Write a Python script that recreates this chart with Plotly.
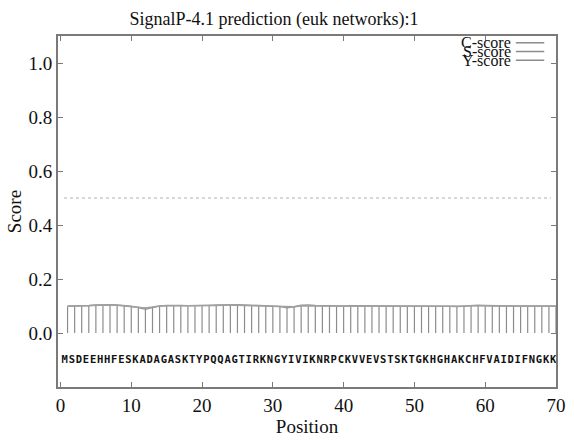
import plotly.graph_objects as go

# ---- data ----
sequence = list("MSDEEHHFESKADAGASKTYPQQAGTIRKNGYIVIKNRPCKVVEVSTSKTGKHGHAKCHFVAIDIFNGKK")
positions = list(range(1, len(sequence) + 1))

c_score = [0.098, 0.098, 0.099, 0.100, 0.102, 0.103, 0.103, 0.102, 0.101, 0.100,
           0.098, 0.096, 0.098, 0.100, 0.101, 0.100, 0.100, 0.099, 0.099, 0.100,
           0.100, 0.101, 0.102, 0.103, 0.102, 0.101, 0.100, 0.100, 0.099, 0.099,
           0.100, 0.098, 0.097, 0.098, 0.099, 0.100, 0.100, 0.100, 0.099, 0.099,
           0.099, 0.099, 0.098, 0.098, 0.099, 0.099, 0.100, 0.099, 0.099, 0.098,
           0.098, 0.099, 0.099, 0.099, 0.098, 0.098, 0.099, 0.100, 0.101, 0.101,
           0.100, 0.100, 0.099, 0.099, 0.099, 0.099, 0.099, 0.099, 0.099, 0.099]

s_score = [0.100, 0.100, 0.101, 0.102, 0.104, 0.105, 0.105, 0.104, 0.102, 0.099,
           0.094, 0.088, 0.094, 0.100, 0.102, 0.103, 0.102, 0.101, 0.101, 0.102,
           0.103, 0.104, 0.105, 0.106, 0.105, 0.104, 0.103, 0.102, 0.101, 0.100,
           0.098, 0.094, 0.097, 0.103, 0.104, 0.102, 0.101, 0.100, 0.100, 0.100,
           0.101, 0.101, 0.100, 0.100, 0.101, 0.101, 0.101, 0.100, 0.100, 0.100,
           0.101, 0.101, 0.101, 0.100, 0.099, 0.098, 0.100, 0.102, 0.103, 0.102,
           0.101, 0.100, 0.100, 0.100, 0.100, 0.100, 0.100, 0.100, 0.100, 0.100]

y_score = [0.099, 0.099, 0.100, 0.101, 0.103, 0.104, 0.104, 0.103, 0.101, 0.099,
           0.096, 0.093, 0.096, 0.100, 0.101, 0.101, 0.101, 0.100, 0.100, 0.101,
           0.101, 0.102, 0.103, 0.104, 0.103, 0.102, 0.101, 0.101, 0.100, 0.099,
           0.099, 0.096, 0.097, 0.100, 0.101, 0.101, 0.100, 0.100, 0.099, 0.099,
           0.100, 0.100, 0.099, 0.099, 0.100, 0.100, 0.100, 0.099, 0.099, 0.099,
           0.099, 0.100, 0.100, 0.099, 0.098, 0.098, 0.099, 0.101, 0.102, 0.101,
           0.100, 0.100, 0.099, 0.099, 0.099, 0.099, 0.099, 0.099, 0.099, 0.099]

cutoff = 0.5
seq_row = -0.1
x_ticks = [0, 10, 20, 30, 40, 50, 60, 70]
y_ticks = [0.0, 0.2, 0.4, 0.6, 0.8, 1.0]
legend_names = ["C-score", "S-score", "Y-score"]

# ---- style ----
GRAY = "#8c8c8c"
FRAME = "#7a7a7a"
SERIF = "Liberation Serif"

fig = go.Figure()

# C-score impulses
ix, iy = [], []
for p, v in zip(positions, c_score):
    ix += [p, p, None]
    iy += [0, v, None]
fig.add_trace(go.Scatter(x=ix, y=iy, mode="lines",
                         line=dict(color=GRAY, width=1.2),
                         hoverinfo="skip", showlegend=False))

fig.add_trace(go.Scatter(x=positions, y=s_score, mode="lines",
                         line=dict(color="#999999", width=1.5), showlegend=False))
fig.add_trace(go.Scatter(x=positions, y=y_score, mode="lines",
                         line=dict(color="#a0a0a0", width=1.5), showlegend=False))

# cutoff line
fig.add_hline(y=cutoff, x0=0.012, x1=0.99,
              line=dict(color="#b0b0b0", width=1, dash="dot"))

# sequence letters
fig.add_trace(go.Scatter(x=[p - 0.4 for p in positions], y=[seq_row] * len(positions),
                         mode="text", text=sequence,
                         textfont=dict(family="DejaVu Sans Mono", size=10.5,
                                       color="#111111", weight="bold"),
                         showlegend=False, hoverinfo="skip"))

# gnuplot-style legend: text then line sample
for i, name in enumerate(legend_names):
    ypx = 43 + 9 * i
    fig.add_annotation(text=name, xref="paper", yref="paper",
                       x=(522 - 58) / 508, y=1 - (ypx - 36) / 362,
                       xanchor="right", yanchor="middle", showarrow=False,
                       font=dict(family=SERIF, size=16, color="#111111"))
    fig.add_shape(type="line", xref="paper", yref="paper",
                  x0=(525 - 58) / 508, x1=(554 - 58) / 508,
                  y0=1 - (ypx - 36) / 362, y1=1 - (ypx - 36) / 362,
                  line=dict(color=GRAY, width=1.5))

fig.update_layout(
    width=574, height=441,
    margin=dict(l=58, r=8, t=36, b=43),
    paper_bgcolor="white", plot_bgcolor="white",
    title=dict(text="SignalP-4.1 prediction (euk networks):1",
               x=274 / 574, xanchor="center", xref="container",
               y=1 - 19 / 441, yanchor="middle", yref="container",
               font=dict(family=SERIF, size=18, color="#111111")),
    font=dict(family=SERIF, color="#111111"),
    showlegend=False,
)

fig.update_xaxes(range=[-0.35, 70], tickvals=x_ticks, ticktext=[str(t) for t in x_ticks],
                 showgrid=False, zeroline=False,
                 showline=True, linecolor=FRAME, linewidth=2, mirror="ticks",
                 ticks="inside", ticklen=5, tickcolor=FRAME,
                 tickfont=dict(family=SERIF, size=19, color="#111111"),
                 title=dict(text="Position", font=dict(family=SERIF, size=19, color="#111111"),
                            standoff=4))
fig.update_yaxes(range=[-0.2, 1.1], tickvals=y_ticks, ticktext=[f"{t:.1f}" for t in y_ticks],
                 showgrid=False, zeroline=False,
                 showline=True, linecolor=FRAME, linewidth=2, mirror="ticks",
                 ticks="inside", ticklen=5, tickcolor=FRAME,
                 tickfont=dict(family=SERIF, size=19, color="#111111"),
                 title=dict(text="Score", font=dict(family=SERIF, size=19, color="#111111"),
                            standoff=2))

fig.write_html("out.html")
